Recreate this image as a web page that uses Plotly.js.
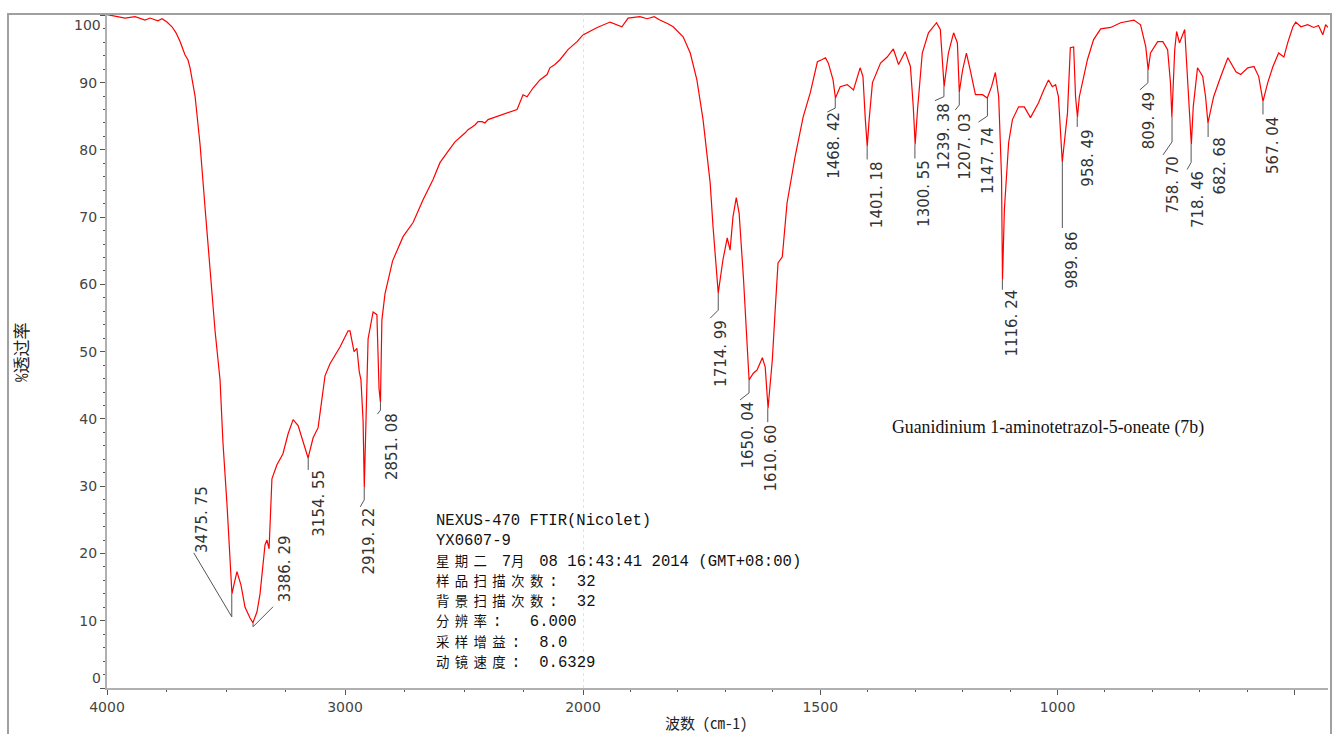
<!DOCTYPE html>
<html>
<head>
<meta charset="utf-8">
<script src="https://cdn.plot.ly/plotly-3.0.1.min.js"></script>
<style>html,body{margin:0;padding:0;background:#fff;}</style>
</head>
<body>
<div id="chart" style="width:1334px;height:737px;"></div>
<script>
// ---------- data ----------
const wavenumber = [
  4000,3966,3924,3882,3840,3819,3786,3769,3748,3727,3710,3693,3672,3660,3651,3630,3609,3588,3567,3546,
  3525,3513,3496,3483,3475,3467,3454,3437,3420,3399,3387,3370,3357,3336,3328,3319,3307,3286,3261,3239,
  3218,3197,3176,3155,3134,3113,3084,3063,3021,2987,2979,2970,2962,2950,2940,2933,2924,2919,2912,2903,
  2882,2866,2857,2851,2845,2832,2800,2756,2714,2672,2630,2601,2571,2538,2496,2483,2466,2454,2441,2424,
  2412,2399,2277,2252,2235,2210,2181,2151,2139,2118,2097,2063,2025,2000,
  1970,1943,1930,1918,1905,1880,1865,1850,1838,1822,1810,1789,1774,1760,1747,1732,1726,1717,1715,1705,
  1696,1690,1684,1677,1671,1662,1654,1650,1641,1633,1622,1616,1610,1601,1595,1589,1580,1570,1553,1536,
  1521,1506,1497,1489,1483,1473,1468,1458,1443,1430,1416,1410,1405,1401,1397,1390,1373,1359,1346,1335,
  1321,1310,1304,1300,1295,1285,1272,1255,1247,1239,1230,1219,1211,1207,1200,1192,1184,1173,1158,1148,
  1139,1131,1124,1118,1116,1112,1103,1095,1082,1070,1057,1040,1029,1019,1011,1004,998,990,979,973,
  966,962,958,954,937,924,909,888,867,839,825,814,809,804,789,778,768,762,759,753,
  749,743,732,728,718,714,705,694,688,683,671,656,641,624,614,599,586,576,567,557,
  546,534,523,515,504,498,487,473,460,450,441,435,430
];
const transmittance = [
  100.1,99.9,99.6,99.8,99.3,99.6,99.2,99.5,99.0,98.3,97.4,96.1,94.1,93.4,92.2,88.0,80.8,71.4,61.7,53.1,
  45.8,36.6,27.4,18.9,14.0,15.3,17.3,15.3,12.0,10.4,9.7,11.3,14.0,21.3,22.0,20.7,31.1,33.2,34.8,37.8,
  39.9,39.0,36.6,34.2,37.2,38.7,46.4,48.2,50.7,53.1,53.1,51.5,50.0,50.5,47.0,45.8,39.7,29.9,39.7,51.9,
  55.9,55.5,44.5,42.5,54.7,58.6,63.5,67.1,69.2,72.6,75.6,78.1,79.6,81.2,82.5,83.0,83.4,83.7,84.2,84.2,
  84.0,84.5,86.0,88.2,87.9,89.2,90.4,91.2,92.2,92.7,93.4,94.9,96.1,97.1,
  98.2,99.0,98.6,98.3,99.6,99.8,99.5,99.8,99.3,98.8,98.3,96.8,94.4,90.4,84.5,75.1,68.6,61.1,58.7,63.7,
  66.9,65.1,70.0,72.9,70.6,61.1,51.3,45.8,46.8,47.3,49.1,47.7,41.6,48.8,56.2,63.2,64.1,72.1,79.0,84.9,
  88.5,93.1,93.4,93.7,92.9,90.4,87.7,89.4,89.7,88.9,92.2,90.9,84.5,80.5,84.5,90.0,92.9,93.8,95.0,92.7,
  94.6,92.4,86.4,80.8,86.0,94.4,97.4,98.9,97.9,89.4,94.4,97.4,95.9,88.6,91.9,94.4,91.9,88.2,88.2,87.7,
  89.4,91.5,87.9,76.0,60.7,71.1,81.1,84.5,86.4,86.4,84.8,87.0,88.9,90.4,89.4,89.7,87.9,78.2,85.5,95.2,
  95.3,87.9,84.9,87.9,93.4,96.4,98.0,98.2,98.9,99.3,98.6,95.3,91.9,94.4,96.1,96.1,94.9,90.0,84.9,94.9,
  97.6,95.9,97.9,92.4,80.8,86.4,92.2,90.9,87.9,84.0,87.9,90.9,93.7,91.6,91.2,92.2,92.4,90.9,87.2,90.0,
  92.4,94.4,93.8,95.9,98.3,99.0,98.3,98.6,98.2,98.5,97.1,98.6,98.2
];

const peakWavenumbers = [3475.75,3386.29,3154.55,2919.22,2851.08,1714.99,1650.04,1610.60,1468.42,1401.18,1300.55,
  1239.38,1207.03,1147.74,1116.24,989.86,958.49,809.49,758.70,718.46,682.68,567.04];
const peakTransmittance = [14.0,9.7,34.2,29.9,42.5,58.7,45.8,41.6,87.7,80.5,80.8,
  89.4,88.6,87.7,60.7,78.2,84.9,91.9,84.9,80.8,84.0,87.2];
const peakLabels = ['3475. 75','3386. 29','3154. 55','2919. 22','2851. 08','1714. 99','1650. 04','1610. 60','1468. 42',
  '1401. 18','1300. 55','1239. 38','1207. 03','1147. 74','1116. 24','989. 86','958. 49','809. 49','758. 70',
  '718. 46','682. 68','567. 04'];

const yTickValues = [0,10,20,30,40,50,60,70,80,90,100];
const yTickText = ['','10','20','30','40','50','60','70','80','90',''];
const xTicksHigh = [4000,3000];
const xTickTextHigh = ['4000','3000'];
const xTicksLow = [2000,1500,1000,500];
const xTickTextLow = ['2000','1500','1000',''];

const infoLines = [
  'NEXUS-470 FTIR(Nicolet)',
  'YX0607-9',
  '星期二 7月 08 16:43:41 2014 (GMT+08:00)',
  '样品扫描次数:  32',
  '背景扫描次数:  32',
  '分辨率:   6.000',
  '采样增益:  8.0',
  '动镜速度:  0.6329'
];
const compoundName = 'Guanidinium 1-aminotetrazol-5-oneate (7b)';
const yTitle = '%透过率';
const xTitle = '波数 (cm-1)';

// ---------- label leader layout (pixels relative to each peak, y up) ----------
const leaderPaths = [
  'M0,0 L0,-23 L-38,41','M0,0 L0,-4 L20,16','M0,0 L0,-12','M0,0 L0,-13 L-4,-20','M0,0 L0,-8 L-3,-12',
  'M0,0 L0,-17 L-8,-25','M0,0 L0,-13 L-9,-20','M0,0 L0,-14','M0,0 L0,-10 L-8,-14','M0,0 L0,-13',
  'M0,0 L0,-14','M0,0 L0,-10 L-9,-14','M0,0 L0,-13 L-4,-18','M0,0 L0,-18 L-9,-24','M0,0 L0,-10',
  'M0,0 L0,-66','M0,0 L0,-10','M0,0 L0,-13 L-8,-20','M0,0 L0,-25 L-9,-38','M0,0 L0,-18 L-4,-25',
  'M0,0 L0,-14','M0,0 L0,-13'
];
const labelDx = [-29,32,11,5,11,2,-1,3,-2,10,9,0,5,0,10,10,11,1,1,7,12,10];
const labelDy = [41,20,-12,-21,-11,-27,-22,-16,-14,-15,-15,-16,-21,-29,-10,-70,-13,-22,-40,-27,-15,-15];
const labelAnchor = ['bottom','bottom','top','top','top','top','top','top','top','top','top','top','top','top',
  'top','top','top','top','top','top','top','top'];

// ---------- geometry ----------
const W = 1334, H = 737;
const PL = 107, PR = 1328, PT = 14, PB = 688;
const SPLIT = 2000;
const splitFrac = (583 - PL) / (PR - PL);
const fx = px => (px - PL) / (PR - PL);
const fy = py => (PB - py) / (PB - PT);

// split the spectrum on the two x scales
const hiX = [], hiY = [], loX = [], loY = [];
wavenumber.forEach((w, i) => {
  if (w >= SPLIT) { hiX.push(w); hiY.push(transmittance[i]); }
  if (w <= SPLIT) { loX.push(w); loY.push(transmittance[i]); }
});

const lineStyle = {color: '#ff0000', width: 1.2};
const traces = [
  {x: hiX, y: hiY, xaxis: 'x', yaxis: 'y', mode: 'lines', line: lineStyle, hoverinfo: 'skip'},
  {x: loX, y: loY, xaxis: 'x2', yaxis: 'y', mode: 'lines', line: lineStyle, hoverinfo: 'skip'}
];

const tickFont = {family: 'DejaVu Sans', size: 14, color: '#444'};
const axisCommon = {
  showline: true, linecolor: '#b0b0b0', linewidth: 2, showgrid: false, zeroline: false,
  ticks: 'outside', ticklen: 5, tickcolor: '#555', tickwidth: 1, tickfont: tickFont,
  fixedrange: true
};

const shapes = [];
const annotations = [];

// outer frame
shapes.push({type: 'path', xref: 'paper', yref: 'paper',
  path: `M${fx(8)},${fy(734)} L${fx(8)},${fy(14)} L${fx(1331)},${fy(14)} L${fx(1331)},${fy(734)}`,
  line: {color: '#a0a0a0', width: 2}});
// dotted separator at 2000
shapes.push({type: 'line', xref: 'x2', yref: 'paper', x0: SPLIT, x1: SPLIT, y0: 0, y1: 1,
  line: {color: '#c8c8c8', width: 1, dash: 'dot'}});

// peak leaders + labels
peakWavenumbers.forEach((w, i) => {
  const xr = w >= SPLIT ? 'x' : 'x2';
  shapes.push({type: 'path', xref: xr, yref: 'y', xsizemode: 'pixel', ysizemode: 'pixel',
    xanchor: w, yanchor: peakTransmittance[i], path: leaderPaths[i],
    line: {color: '#555', width: 1}});
  annotations.push({xref: xr, yref: 'y', x: w, y: peakTransmittance[i], text: peakLabels[i],
    showarrow: false, textangle: -90, xanchor: 'center', yanchor: labelAnchor[i],
    xshift: labelDx[i], yshift: labelDy[i], borderpad: 0, borderwidth: 0,
    font: {family: 'DejaVu Sans', size: 15, color: '#333'}});
});

// edge y tick labels (drawn shifted inward like the original)
annotations.push({xref: 'paper', yref: 'y', x: 0, y: 100, text: '100', showarrow: false,
  xanchor: 'right', yanchor: 'middle', xshift: -6, yshift: -10, font: tickFont, borderpad: 0, borderwidth: 0});
annotations.push({xref: 'paper', yref: 'y', x: 0, y: 0, text: '0', showarrow: false,
  xanchor: 'right', yanchor: 'middle', xshift: -6, yshift: 10, font: tickFont, borderpad: 0, borderwidth: 0});

// instrument info block: monospace Latin, CJK runs kept compact but on the same character grid
const infoText = infoLines
  .map(t => t.replace(/([\u4e00-\u9fff]+)/g, '<span style="font-size:13.4px;letter-spacing:5.4px">$1</span>'))
  .join('<br>');
annotations.push({xref: 'paper', yref: 'paper', x: fx(436), y: fy(512), text: infoText,
  showarrow: false, xanchor: 'left', yanchor: 'top', align: 'left', borderpad: 0, borderwidth: 0,
  font: {family: '"Liberation Mono", "Noto Sans CJK SC", monospace', size: 15.6, color: '#111'}});

// compound name
annotations.push({xref: 'paper', yref: 'paper', x: fx(1048), y: fy(427), text: compoundName,
  showarrow: false, xanchor: 'center', yanchor: 'middle', borderwidth: 0,
  font: {family: '"Liberation Serif", serif', size: 17.8, color: '#111'}});

// axis titles
annotations.push({xref: 'paper', yref: 'paper', x: fx(20), y: fy(352), text: yTitle, textangle: -90,
  showarrow: false, xanchor: 'center', yanchor: 'middle', borderwidth: 0,
  font: {family: '"Noto Sans Mono CJK SC", "Noto Sans CJK SC", sans-serif', size: 17, color: '#222'}});
annotations.push({xref: 'paper', yref: 'paper', x: fx(706), y: fy(722), text: xTitle,
  showarrow: false, xanchor: 'center', yanchor: 'middle', borderwidth: 0,
  font: {family: '"Noto Sans Mono CJK SC", "Noto Sans CJK SC", sans-serif', size: 15, color: '#222'}});

const layout = {
  width: W, height: H,
  margin: {l: PL, r: W - PR, t: PT, b: H - PB},
  paper_bgcolor: '#fff', plot_bgcolor: '#fff',
  showlegend: false,
  xaxis: Object.assign({}, axisCommon, {
    domain: [0, splitFrac], range: [4000, SPLIT], anchor: 'y',
    tickmode: 'array', tickvals: xTicksHigh, ticktext: xTickTextHigh,
    minor: {dtick: 250, tick0: 0, ticks: 'outside', ticklen: 2, tickcolor: '#555'}
  }),
  xaxis2: Object.assign({}, axisCommon, {
    domain: [splitFrac, 1], range: [SPLIT, 430], anchor: 'y',
    tickmode: 'array', tickvals: xTicksLow, ticktext: xTickTextLow,
    minor: {dtick: 100, tick0: 0, ticks: 'outside', ticklen: 2, tickcolor: '#555'}
  }),
  yaxis: Object.assign({}, axisCommon, {
    domain: [0, 1], range: [0, 100.2], anchor: 'x',
    tickmode: 'array', tickvals: yTickValues, ticktext: yTickText,
    minor: {dtick: 2, tick0: 0, ticks: 'outside', ticklen: 2, tickcolor: '#555'}
  }),
  shapes: shapes,
  annotations: annotations
};

Plotly.newPlot('chart', traces, layout, {displayModeBar: false, staticPlot: true});
</script>
</body>
</html>
